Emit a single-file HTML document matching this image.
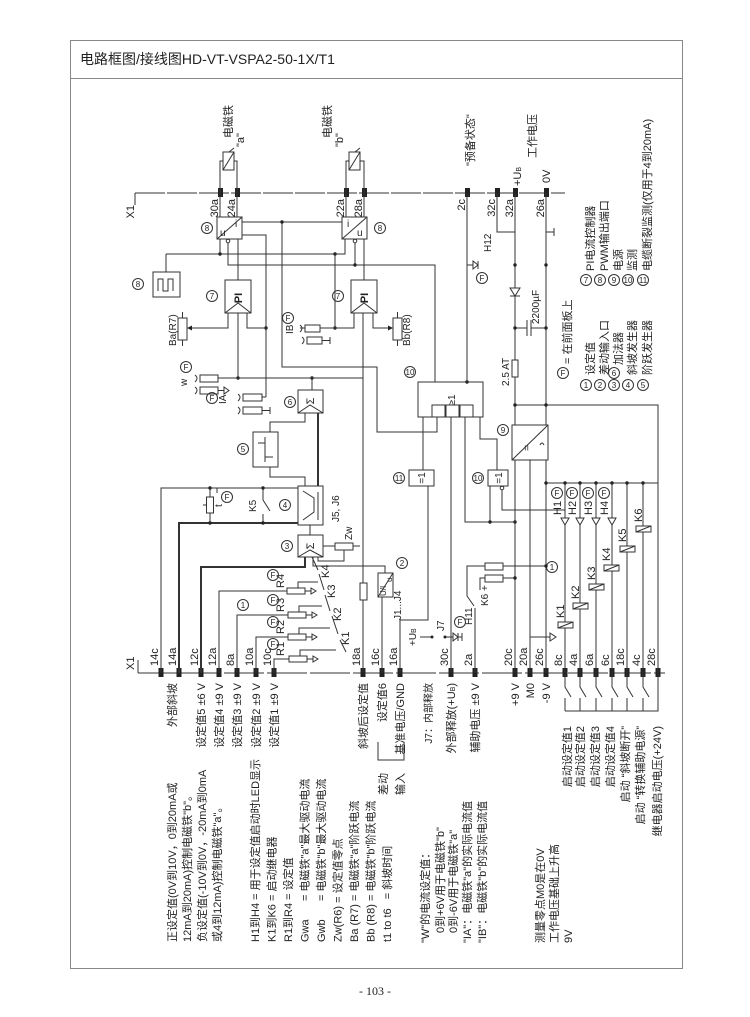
<!DOCTYPE html>
<html><head><meta charset="utf-8"><style>
html,body{margin:0;padding:0;background:#fff}
svg{display:block}
text{font-family:"Liberation Sans","Noto Sans CJK SC",sans-serif;font-size:11px;fill:#222}
.s{font-size:10px}
.c{font-size:8px}
.h{font-size:14px}
.p{font-family:"Liberation Serif",serif;font-size:12px}
.l{stroke:#333;stroke-width:1;fill:none}
.t{stroke:#333;stroke-width:2;fill:none}
.b{stroke:#333;stroke-width:1;fill:#fff}
.d{fill:#222}
</style></head><body>
<svg width="750" height="1017" viewBox="0 0 750 1017" xmlns="http://www.w3.org/2000/svg">
<rect x="70.5" y="40.5" width="612" height="928" fill="none" stroke="#888"/>
<line x1="70" y1="78.5" x2="682" y2="78.5" stroke="#888"/>
<text class="h" x="80" y="64">电路框图/接线图HD-VT-VSPA2-50-1X/T1</text>
<text class="p" x="375" y="995" text-anchor="middle">- 103 -</text>

<!-- terminal lines -->
<line class="l" x1="135" y1="193" x2="565" y2="193" stroke-dasharray="30,2"/>
<line class="l" x1="138" y1="673" x2="665" y2="673" stroke-dasharray="40,3"/>
<line class="l" x1="135" y1="193" x2="135" y2="205"/>
<line class="l" x1="138" y1="673" x2="138" y2="660"/>
<text transform="translate(134,205) rotate(-90)" text-anchor="end">X1</text>
<text transform="translate(134,670) rotate(-90)">X1</text>
<g class="d">
<rect x="218" y="188" width="5" height="9"/><rect x="235" y="188" width="5" height="9"/>
<rect x="344" y="188" width="5" height="9"/><rect x="362" y="188" width="5" height="9"/>
<rect x="465" y="188" width="5" height="9"/><rect x="495" y="188" width="5" height="9"/>
<rect x="513" y="188" width="5" height="9"/><rect x="544" y="188" width="5" height="9"/>
</g>
<g class="s">
<text transform="translate(218,199) rotate(-90)" text-anchor="end">30a</text>
<text transform="translate(235,199) rotate(-90)" text-anchor="end">24a</text>
<text transform="translate(344,199) rotate(-90)" text-anchor="end">22a</text>
<text transform="translate(362,199) rotate(-90)" text-anchor="end">28a</text>
<text transform="translate(465,199) rotate(-90)" text-anchor="end">2c</text>
<text transform="translate(495,199) rotate(-90)" text-anchor="end">32c</text>
<text transform="translate(513,199) rotate(-90)" text-anchor="end">32a</text>
<text transform="translate(544,199) rotate(-90)" text-anchor="end">26a</text>
</g>
<!-- bottom terminals -->
<g class="d">
<rect x="158.5" y="668" width="5" height="9"/><rect x="176.5" y="668" width="5" height="9"/>
<rect x="198.5" y="668" width="5" height="9"/><rect x="216.5" y="668" width="5" height="9"/>
<rect x="234.5" y="668" width="5" height="9"/><rect x="253.5" y="668" width="5" height="9"/>
<rect x="271.5" y="668" width="5" height="9"/><rect x="360.5" y="668" width="5" height="9"/>
<rect x="379.5" y="668" width="5" height="9"/><rect x="397.5" y="668" width="5" height="9"/>
<rect x="448.5" y="668" width="5" height="9"/><rect x="472.5" y="668" width="5" height="9"/>
<rect x="512.5" y="668" width="5" height="9"/><rect x="527.5" y="668" width="5" height="9"/>
<rect x="543.5" y="668" width="5" height="9"/><rect x="562.5" y="668" width="5" height="9"/>
<rect x="577.5" y="668" width="5" height="9"/><rect x="593.5" y="668" width="5" height="9"/>
<rect x="609.5" y="668" width="5" height="9"/><rect x="624.5" y="668" width="5" height="9"/>
<rect x="640.5" y="668" width="5" height="9"/><rect x="655.5" y="668" width="5" height="9"/>
</g>
<g class="s">
<text transform="translate(158,666) rotate(-90)">14c</text>
<text transform="translate(176,666) rotate(-90)">14a</text>
<text transform="translate(198,666) rotate(-90)">12c</text>
<text transform="translate(216,666) rotate(-90)">12a</text>
<text transform="translate(234,666) rotate(-90)">8a</text>
<text transform="translate(253,666) rotate(-90)">10a</text>
<text transform="translate(271,666) rotate(-90)">10c</text>
<text transform="translate(360,666) rotate(-90)">18a</text>
<text transform="translate(379,666) rotate(-90)">16c</text>
<text transform="translate(397,666) rotate(-90)">16a</text>
<text transform="translate(448,666) rotate(-90)">30c</text>
<text transform="translate(472,666) rotate(-90)">2a</text>
<text transform="translate(512,666) rotate(-90)">20c</text>
<text transform="translate(527,666) rotate(-90)">20a</text>
<text transform="translate(543,666) rotate(-90)">26c</text>
<text transform="translate(562,666) rotate(-90)">8c</text>
<text transform="translate(577,666) rotate(-90)">4a</text>
<text transform="translate(593,666) rotate(-90)">6a</text>
<text transform="translate(609,666) rotate(-90)">6c</text>
<text transform="translate(624,666) rotate(-90)">18c</text>
<text transform="translate(640,666) rotate(-90)">4c</text>
<text transform="translate(655,666) rotate(-90)">28c</text>
</g>

<!-- bottom labels -->
<text transform="translate(176,683) rotate(-90)" text-anchor="end">外部斜坡</text>
<text transform="translate(205,683) rotate(-90)" text-anchor="end">设定值5 ±6 V</text>
<text transform="translate(223,683) rotate(-90)" text-anchor="end">设定值4 ±9 V</text>
<text transform="translate(241,683) rotate(-90)" text-anchor="end">设定值3 ±9 V</text>
<text transform="translate(260,683) rotate(-90)" text-anchor="end">设定值2 ±9 V</text>
<text transform="translate(278,683) rotate(-90)" text-anchor="end">设定值1 ±9 V</text>
<text transform="translate(367,683) rotate(-90)" text-anchor="end">斜坡后设定值</text>
<text transform="translate(386,683) rotate(-90)" text-anchor="end">设定值6</text>
<text transform="translate(404,683) rotate(-90)" text-anchor="end">基准电压/GND</text>
<text transform="translate(432,683) rotate(-90)" text-anchor="end" class="s">J7：内部释放</text>
<text transform="translate(455,683) rotate(-90)" text-anchor="end">外部释放(+U<tspan font-size="7">B</tspan>)</text>
<text transform="translate(479,683) rotate(-90)" text-anchor="end">辅助电压 ±9 V</text>
<text transform="translate(519,683) rotate(-90)" text-anchor="end">+9 V</text>
<text transform="translate(534,683) rotate(-90)" text-anchor="end">M0</text>
<text transform="translate(550,683) rotate(-90)" text-anchor="end">-9 V</text>
<path class="l" d="M378,742 V760 H404 V742"/>
<text transform="translate(387,773) rotate(-90)" text-anchor="end">差动</text>
<text transform="translate(404,773) rotate(-90)" text-anchor="end">输入</text>

<!-- notes -->
<g>
<text transform="translate(176,942) rotate(-90)">正设定值(0V到10V，0到20mA或</text>
<text transform="translate(191,942) rotate(-90)">12mA到20mA)控制电磁铁"b"。</text>
<text transform="translate(206,942) rotate(-90)">负设定值(-10V到0V，-20mA到0mA</text>
<text transform="translate(221,942) rotate(-90)">或4到12mA)控制电磁铁"a"。</text>
<text transform="translate(259,942) rotate(-90)" xml:space="preserve">H1到H4 = 用于设定值启动时LED显示</text>
<text transform="translate(275.5,942) rotate(-90)" xml:space="preserve">K1到K6 = 启动继电器</text>
<text transform="translate(292,942) rotate(-90)" xml:space="preserve">R1到R4 = 设定值</text>
<text transform="translate(308.5,942) rotate(-90)" xml:space="preserve">Gwa      = 电磁铁"a"最大驱动电流</text>
<text transform="translate(325,942) rotate(-90)" xml:space="preserve">Gwb      = 电磁铁"b"最大驱动电流</text>
<text transform="translate(341.5,942) rotate(-90)" xml:space="preserve">Zw(R6) = 设定值零点</text>
<text transform="translate(358,942) rotate(-90)" xml:space="preserve">Ba (R7) = 电磁铁"a"阶跃电流</text>
<text transform="translate(374.5,942) rotate(-90)" xml:space="preserve">Bb (R8) = 电磁铁"b"阶跃电流</text>
<text transform="translate(391,942) rotate(-90)" xml:space="preserve">t1 to t6   = 斜坡时间</text>
<text transform="translate(429,943) rotate(-90)">"W"的电流设定值：</text>
<text transform="translate(444,933) rotate(-90)">0到+6V用于电磁铁"b"</text>
<text transform="translate(457,933) rotate(-90)">0到-6V用于电磁铁"a"</text>
<text transform="translate(471,943) rotate(-90)">"IA"：电磁铁"a"的实际电流值</text>
<text transform="translate(486,943) rotate(-90)">"IB"：电磁铁"b"的实际电流值</text>
<text transform="translate(544,943) rotate(-90)">测量零点M0是在0V</text>
<text transform="translate(558,943) rotate(-90)">工作电压基础上升高</text>
<text transform="translate(572,943) rotate(-90)">9V</text>
<text transform="translate(571,726) rotate(-90)" text-anchor="end">启动设定值1</text>
<text transform="translate(584,726) rotate(-90)" text-anchor="end">启动设定值2</text>
<text transform="translate(599,726) rotate(-90)" text-anchor="end">启动设定值3</text>
<text transform="translate(614,726) rotate(-90)" text-anchor="end">启动设定值4</text>
<text transform="translate(629,726) rotate(-90)" text-anchor="end">启动 “斜坡断开”</text>
<text transform="translate(644,726) rotate(-90)" text-anchor="end">启动 “转换辅助电源”</text>
<text transform="translate(661,726) rotate(-90)" text-anchor="end">继电器启动电压(+24V)</text>
</g>

<!-- bottom switches -->
<path class="l" d="M565,673 V687 L571,697 M565,698 V711 M580,673 V687 L586,697 M580,698 V711 M596,673 V687 L602,697 M596,698 V711 M612,673 V687 L618,697 M612,698 V711 M627,673 V687 L633,697 M627,698 V711 M643,673 V687 L649,697 M643,698 V711 M565,711 H658 V673"/>

<!-- legends -->
<g>
<circle class="l" cx="586" cy="280" r="5.5"/><text class="c" x="586" y="283" text-anchor="middle">7</text>
<text transform="translate(594,271) rotate(-90)">PI电流控制器</text>
<circle class="l" cx="600" cy="280" r="5.5"/><text class="c" x="600" y="283" text-anchor="middle">8</text>
<text transform="translate(608,271) rotate(-90)">PWM输出端口</text>
<circle class="l" cx="614" cy="280" r="5.5"/><text class="c" x="614" y="283" text-anchor="middle">9</text>
<text transform="translate(622,271) rotate(-90)">电源</text>
<circle class="l" cx="628" cy="280" r="5.5"/><text class="c" x="628" y="283" text-anchor="middle">10</text>
<text transform="translate(636,271) rotate(-90)">监测</text>
<circle class="l" cx="643" cy="280" r="5.5"/><text class="c" x="643" y="283" text-anchor="middle">11</text>
<text transform="translate(651,271) rotate(-90)">电缆断裂监测(仅用于4到20mA)</text>
<circle class="l" cx="586" cy="385" r="5.5"/><text class="c" x="586" y="388" text-anchor="middle">1</text>
<text transform="translate(594,375) rotate(-90)">设定值</text>
<circle class="l" cx="600" cy="385" r="5.5"/><text class="c" x="600" y="388" text-anchor="middle">2</text>
<text transform="translate(608,375) rotate(-90)">差动输入口</text>
<circle class="l" cx="614" cy="385" r="5.5"/><text class="c" x="614" y="388" text-anchor="middle">3</text>
<circle class="l" cx="614" cy="373" r="5.5"/><text class="c" x="614" y="376" text-anchor="middle">6</text>
<text transform="translate(622,365) rotate(-90)">加法器</text>
<circle class="l" cx="628" cy="385" r="5.5"/><text class="c" x="628" y="388" text-anchor="middle">4</text>
<text transform="translate(636,375) rotate(-90)"> 斜坡发生器</text>
<circle class="l" cx="643" cy="385" r="5.5"/><text class="c" x="643" y="388" text-anchor="middle">5</text>
<text transform="translate(651,375) rotate(-90)">阶跃发生器</text>
<circle class="l" cx="563" cy="373" r="5.5"/><text class="c" x="563" y="376" text-anchor="middle">F</text>
<text transform="translate(571,364) rotate(-90)">= 在前面板上</text>
</g>

<!-- top labels -->
<text transform="translate(232,138) rotate(-90)">电磁铁</text>
<text transform="translate(244,147) rotate(-90)">"a"</text>
<text transform="translate(331,138) rotate(-90)">电磁铁</text>
<text transform="translate(343,147) rotate(-90)">"b"</text>
<text transform="translate(474,166) rotate(-90)">"预备状态"</text>
<text transform="translate(536,158) rotate(-90)">工作电压</text>
<text transform="translate(521,186) rotate(-90)">+U<tspan font-size="7">B</tspan></text>
<text transform="translate(550,183) rotate(-90)">0V</text>

<!-- solenoids -->
<path class="l" d="M220,193 V161 H223 M237,193 V161 H234 M346,193 V161 H349 M364,193 V161 H360"/>
<rect class="b" x="223" y="152" width="11" height="18"/><path class="l" d="M223,170 L234,152 M229,152 L234,148"/>
<rect class="b" x="349" y="152" width="11" height="18"/><path class="l" d="M349,170 L360,152 M355,152 L360,148"/>

<!-- PWM blocks -->
<path class="l" d="M220,193 V217 M237,193 V217 M346,193 V217 M364,193 V217"/>
<rect class="b" x="217" y="217" width="25" height="22"/><path class="l" d="M217,239 L242,217"/>
<text x="220" y="236" class="s">u</text><text x="235" y="227" class="s">i</text>
<rect class="b" x="342" y="217" width="25" height="22"/><path class="l" d="M342,239 L367,217"/>
<text x="347" y="227" class="s">i</text><text x="357" y="236" class="s">u</text>
<circle class="l" cx="207" cy="228" r="5.5"/><text class="c" x="207" y="231" text-anchor="middle">8</text>
<circle class="l" cx="380" cy="228" r="5.5"/><text class="c" x="380" y="231" text-anchor="middle">8</text>
<path class="l" d="M242,222 H342 M282,222 V367 H377 V432 H437 V417 M242,235 H266 V397 M220,239 V254 M166,254 H345 V239 M166,254 V272 M228,241 V265 H435 V382 M355,241 V265 M238,239 V280 M364,239 V280"/>
<circle cx="228" cy="241" r="1.8" class="b"/><circle cx="355" cy="241" r="1.8" class="b"/>
<g class="d"><circle cx="282" cy="222" r="1.7"/><circle cx="220" cy="254" r="1.7"/><circle cx="355" cy="265" r="1.7"/><circle cx="266" cy="328" r="1.7"/><circle cx="335" cy="328" r="1.7"/><circle cx="238" cy="378" r="1.7"/><circle cx="312" cy="378" r="1.7"/><circle cx="335" cy="254" r="1.7"/></g>
<rect class="b" x="153" y="272" width="27" height="25"/><path class="l" d="M158,291 V279 H163 V291 H168 V279 H173 V291"/>
<circle class="l" cx="138" cy="284" r="5.5"/><text class="c" x="138" y="287" text-anchor="middle">8</text>

<!-- PI blocks -->
<rect class="b" x="225" y="280" width="26" height="33"/><path class="l" d="M225,313 L238,303 L251,313"/>
<text transform="translate(242,298) rotate(-90)" text-anchor="middle" font-weight="bold">PI</text>
<rect class="b" x="351" y="280" width="26" height="33"/><path class="l" d="M351,313 L364,303 L377,313"/>
<text transform="translate(368,298) rotate(-90)" text-anchor="middle" font-weight="bold">PI</text>
<circle class="l" cx="212" cy="296" r="5.5"/><text class="c" x="212" y="299" text-anchor="middle">7</text>
<circle class="l" cx="338" cy="296" r="5.5"/><text class="c" x="338" y="299" text-anchor="middle">7</text>
<path class="l" d="M228,313 V328 H190 M238,313 V378 M247,313 V328 H266 M354,313 V328 H320 M335,328 V254 M373,313 V328 H390 M363,313 V673"/>
<path class="d" d="M187,328 L192,325.5 V330.5Z M393,328 L388,325.5 V330.5Z"/>
<rect class="b" x="178" y="318" width="9" height="22"/><path class="l" d="M182.5,312 V318 M182.5,340 V346"/>
<text transform="translate(176,346) rotate(-90)" class="s">Ba(R7)</text>
<rect class="b" x="393" y="318" width="9" height="22"/><path class="l" d="M397.5,312 V318 M397.5,340 V346"/>
<text transform="translate(410,346) rotate(-90)" class="s">Bb(R8)</text>
<rect class="b" x="305" y="325" width="15" height="7"/><path class="l" d="M300,325 q4,3 0,7 M305,328 H300"/>
<rect class="b" x="307" y="337" width="15" height="7"/><path class="l" d="M302,337 q4,3 0,7 M322,340.5 H330 M330,337 V344"/>
<text transform="translate(293,334) rotate(-90)" class="s">IB</text>
<circle class="l" cx="288" cy="318" r="5.5"/><text class="c" x="288" y="321" text-anchor="middle">F</text>

<!-- W, IA inputs -->
<path class="l" d="M218,378 H363 M312,378 V390"/>
<rect class="b" x="200" y="375" width="18" height="7"/><path class="l" d="M195,375 q4,3 0,7"/>
<rect class="b" x="200" y="387" width="18" height="7"/><path class="l" d="M195,387 q4,3 0,7 M218,390.5 H224"/><path class="b" d="M224,387 L229,390.5 L224,394Z"/>
<text transform="translate(187,386) rotate(-90)" class="s">w</text>
<circle class="l" cx="186" cy="367" r="5.5"/><text class="c" x="186" y="370" text-anchor="middle">F</text>
<rect class="b" x="243" y="394" width="19" height="7"/><path class="l" d="M238,394 q4,3 0,7 M262,397 H266"/>
<rect class="b" x="243" y="407" width="19" height="7"/><path class="l" d="M238,407 q4,3 0,7 M262,410.5 H270 M270,407 V414"/>
<circle class="l" cx="212" cy="398" r="5.5"/><text class="c" x="212" y="401" text-anchor="middle">F</text>
<text transform="translate(226,404) rotate(-90)" class="s">IA</text>

<!-- 6 sigma -->
<rect class="b" x="298" y="390" width="25" height="23"/><path class="l" d="M298,413 L310,405 L323,413"/>
<text transform="translate(314,401) rotate(-90)" text-anchor="middle">Σ</text>
<circle class="l" cx="290" cy="402" r="5.5"/><text class="c" x="290" y="405" text-anchor="middle">6</text>
<!-- 5 step -->
<rect class="b" x="253" y="432" width="25" height="35"/><path class="l" d="M258,443 H265 V457 H273 M265,437 V462"/>
<circle class="l" cx="243" cy="449" r="5.5"/><text class="c" x="243" y="452" text-anchor="middle">5</text>
<path class="l" d="M270,432 V422 H305 V413 M270,467 V477 H305 V486"/>
<path class="t" d="M318,413 V486"/>
<!-- 4 ramp -->
<rect class="b" x="298" y="486" width="25" height="39"/><path class="l" d="M303,520 L314,512 V498 L303,491 M318,520 V492"/>
<circle class="l" cx="285" cy="505" r="5.5"/><text class="c" x="285" y="508" text-anchor="middle">4</text>
<text transform="translate(339,522) rotate(-90)" class="s">J5, J6</text>
<path class="l" d="M161,673 V488 H298 M210,488 V497 M210,513 V523 M217,488 V493 M203,505 H207 M263,488 V500 L270,511 M263,514 V523"/>
<path class="t" d="M179,673 V523 H298"/>
<rect class="b" x="206.5" y="497" width="7" height="16"/>
<circle class="l" cx="227" cy="497" r="5.5"/><text class="c" x="227" y="500" text-anchor="middle">F</text>
<text transform="translate(222,507) rotate(-90)" class="s">t</text>
<text transform="translate(256,512) rotate(-90)" class="s">K5</text>
<g class="d"><circle cx="210" cy="488" r="1.7"/><circle cx="210" cy="523" r="1.7"/><circle cx="263" cy="488" r="1.7"/><circle cx="263" cy="523" r="1.7"/></g>
<path class="l" d="M310,525 V535"/>
<!-- 3 sigma -->
<rect class="b" x="298" y="535" width="25" height="22"/><path class="l" d="M298,557 L310,550 L323,557"/>
<text transform="translate(314,546) rotate(-90)" text-anchor="middle">Σ</text>
<circle class="l" cx="287" cy="546" r="5.5"/><text class="c" x="287" y="549" text-anchor="middle">3</text>
<path class="l" d="M323,546 H335 M353,546 H360 M344,550 V561 H318 V557"/>
<rect class="b" x="335" y="543" width="18" height="7"/>
<text transform="translate(352,540) rotate(-90)" class="s">Zw</text>
<path class="t" d="M201,673 V567 H305 V557"/>
<path class="l" d="M313,557 V566 H385 V573"/>
<!-- 2 U/I -->
<rect class="b" x="378" y="573" width="15" height="24"/><path class="l" d="M378,597 L393,573"/>
<text transform="translate(386,596) rotate(-90)" class="c">U/I</text><text transform="translate(392,582) rotate(-90)" class="c">u</text>
<circle class="l" cx="402" cy="563" r="5.5"/><text class="c" x="402" y="566" text-anchor="middle">2</text>
<text transform="translate(401,620) rotate(-90)" class="s">J1...J4</text>
<path class="l" d="M382,673 V597 M400,673 V620 H428 V486"/>
<rect class="b" x="360" y="583" width="7" height="17"/>
<!-- setpoint resistors -->
<path class="l" d="M219,673 V591 H287 M237,673 V615 H288 M256,673 V637 H288 M274,673 V659 H289"/>
<rect class="b" x="287" y="588" width="18" height="6"/><rect class="b" x="288" y="612" width="18" height="6"/>
<rect class="b" x="288" y="634" width="18" height="6"/><rect class="b" x="289" y="656" width="18" height="6"/>
<path class="l" d="M305,591 H311 M306,615 H312 M306,637 H312 M307,659 H313 M298,588 V582 H318 M299,612 V606 H322 M299,634 V628 H330 M300,656 V650 H336"/>
<path class="b" d="M311,588 L316,591 L311,594Z M312,612 L317,615 L312,618Z M312,634 L317,637 L312,640Z M313,656 L318,659 L313,662Z"/>
<path class="l" d="M312,557 L318,570 M319,574 L324,590 M325,595 L330,611 M332,616 L338,634 M340,640 L346,652"/>
<g class="s">
<text transform="translate(284,588) rotate(-90)">R4</text><text transform="translate(284,612) rotate(-90)">R3</text>
<text transform="translate(284,634) rotate(-90)">R2</text><text transform="translate(284,656) rotate(-90)">R1</text>
<text transform="translate(329,578) rotate(-90)">K4</text><text transform="translate(335,598) rotate(-90)">K3</text>
<text transform="translate(341,621) rotate(-90)">K2</text><text transform="translate(349,645) rotate(-90)">K1</text>
</g>
<circle class="l" cx="273" cy="575" r="5.5"/><text class="c" x="273" y="578" text-anchor="middle">F</text>
<circle class="l" cx="273" cy="600" r="5.5"/><text class="c" x="273" y="603" text-anchor="middle">F</text>
<circle class="l" cx="273" cy="622" r="5.5"/><text class="c" x="273" y="625" text-anchor="middle">F</text>
<circle class="l" cx="273" cy="644" r="5.5"/><text class="c" x="273" y="647" text-anchor="middle">F</text>
<circle class="l" cx="243" cy="605" r="5.5"/><text class="c" x="243" y="608" text-anchor="middle">1</text>

<!-- 11 and 10 logic -->
<rect class="b" x="409" y="470" width="25" height="16"/><text transform="translate(425,478) rotate(-90)" text-anchor="middle" class="s">=1</text>
<circle class="l" cx="399" cy="478" r="5.5"/><text class="c" x="399" y="481" text-anchor="middle">11</text>
<rect class="b" x="418" y="382" width="65" height="35"/>
<text transform="translate(455,400) rotate(-90)" text-anchor="middle" class="s">≥1</text>
<rect class="b" x="432" y="405" width="13" height="12"/><rect class="b" x="446" y="405" width="13" height="12"/><rect class="b" x="460" y="405" width="13" height="12"/>
<circle class="l" cx="410" cy="372" r="5.5"/><text class="c" x="410" y="375" text-anchor="middle">10</text>
<path class="l" d="M423,417 V470 M451,673 V417 M465,417 V522 H515 M480,417 V439 H497 V470 M490,486 V522 M502,490 V510 H565"/>
<circle cx="502" cy="488" r="1.8" class="b"/>
<rect class="b" x="488" y="470" width="20" height="16"/><text transform="translate(502,478) rotate(-90)" text-anchor="middle" class="s">=1</text>
<circle class="l" cx="478" cy="478" r="5.5"/><text class="c" x="478" y="481" text-anchor="middle">10</text>
<g class="d"><circle cx="467" cy="382" r="1.7"/><circle cx="490" cy="522" r="1.7"/><circle cx="515" cy="522" r="1.7"/></g>

<!-- power -->
<path class="l" d="M467,193 V382 M497,193 V232 H515 M515,193 V673 M546,193 V673 M546,232 H554 M554,228 V236 M515,328 H527 M531,328 H546 M515,405 H658 V673 M530,460 V673 M530,637 H550"/>
<path class="l" d="M527,320 V336 M531,320 V336"/>
<path class="b" d="M550,633 L556,637 L550,641Z"/>
<path class="b" d="M510,288 L520,288 L515,296Z"/><path class="l" d="M510,296 H520"/>
<rect class="b" x="512" y="360" width="6" height="17"/>
<g class="d"><circle cx="515" cy="265" r="1.7"/><circle cx="546" cy="265" r="1.7"/><circle cx="515" cy="328" r="1.7"/><circle cx="546" cy="328" r="1.7"/><circle cx="515" cy="405" r="1.7"/><circle cx="546" cy="405" r="1.7"/></g>
<text transform="translate(539,324) rotate(-90)" class="s">2200µF</text>
<text transform="translate(509,386) rotate(-90)" class="s">2.5 AT</text>
<path class="l" d="M467,265 H473 M478,261 V269"/><path class="b" d="M473,261 L473,269 L478,265Z"/>
<text transform="translate(491,252) rotate(-90)" class="s">H12</text>
<circle class="l" cx="482" cy="278" r="5.5"/><text class="c" x="482" y="281" text-anchor="middle">F</text>
<!-- 9 -->
<rect class="b" x="512" y="425" width="36" height="35"/><path class="l" d="M512,460 L548,425 M540,445 q2,-4 4,0"/>
<text transform="translate(530,448) rotate(-90)" text-anchor="middle" class="s">=</text>
<circle class="l" cx="503" cy="430" r="5.5"/><text class="c" x="503" y="433" text-anchor="middle">9</text>

<!-- relays & LEDs -->
<path class="l" d="M546,483 H658 M565,483 V673 M580,483 V673 M596,483 V673 M612,483 V673 M627,483 V673 M643,483 V673"/>
<g class="d"><circle cx="565" cy="483" r="1.7"/><circle cx="580" cy="483" r="1.7"/><circle cx="596" cy="483" r="1.7"/><circle cx="612" cy="483" r="1.7"/><circle cx="627" cy="483" r="1.7"/><circle cx="643" cy="483" r="1.7"/><circle cx="546" cy="483" r="1.7"/></g>
<path class="b" d="M561,518 H569 L565,525Z M576,518 H584 L580,525Z M592,518 H600 L596,525Z M608,518 H616 L612,525Z"/>
<g class="s">
<text transform="translate(561,515) rotate(-90)">H1</text><text transform="translate(576,515) rotate(-90)">H2</text>
<text transform="translate(592,515) rotate(-90)">H3</text><text transform="translate(608,515) rotate(-90)">H4</text>
</g>
<circle class="l" cx="557" cy="493" r="5.5"/><text class="c" x="557" y="496" text-anchor="middle">F</text>
<circle class="l" cx="572" cy="493" r="5.5"/><text class="c" x="572" y="496" text-anchor="middle">F</text>
<circle class="l" cx="588" cy="493" r="5.5"/><text class="c" x="588" y="496" text-anchor="middle">F</text>
<circle class="l" cx="604" cy="493" r="5.5"/><text class="c" x="604" y="496" text-anchor="middle">F</text>
<g>
<rect class="b" x="558" y="622" width="15" height="6"/><path class="l" d="M558,628 L573,622"/>
<rect class="b" x="573" y="603" width="15" height="6"/><path class="l" d="M573,609 L588,603"/>
<rect class="b" x="589" y="584" width="15" height="6"/><path class="l" d="M589,590 L604,584"/>
<rect class="b" x="604" y="565" width="15" height="6"/><path class="l" d="M604,571 L619,565"/>
<rect class="b" x="620" y="546" width="15" height="6"/><path class="l" d="M620,552 L635,546"/>
<rect class="b" x="636" y="526" width="15" height="6"/><path class="l" d="M636,532 L651,526"/>
</g>
<g class="s">
<text transform="translate(564,618) rotate(-90)">K1</text><text transform="translate(579,599) rotate(-90)">K2</text>
<text transform="translate(595,580) rotate(-90)">K3</text><text transform="translate(610,561) rotate(-90)">K4</text>
<text transform="translate(626,542) rotate(-90)">K5</text><text transform="translate(642,522) rotate(-90)">K6</text>
</g>
<circle class="l" cx="552" cy="567" r="5.5"/><text class="c" x="552" y="570" text-anchor="middle">1</text>

<!-- H11 / K6 / J7 -->
<rect class="b" x="485" y="563" width="18" height="7"/><rect class="b" x="485" y="575" width="18" height="7"/>
<path class="l" d="M503,566 H546 M485,566 H467 V596 L474,606 M475,673 V608 M503,578 H515 M485,578 H480 V590"/>
<g class="d"><circle cx="546" cy="566" r="1.7"/><circle cx="515" cy="578" r="1.7"/></g>
<text transform="translate(488,606) rotate(-90)" class="s">K6 +</text>
<text transform="translate(472,625) rotate(-90)" class="s">H11</text>
<circle class="l" cx="460" cy="622" r="5.5"/><text class="c" x="460" y="625" text-anchor="middle">F</text>
<text transform="translate(416,646) rotate(-90)" class="s">+U<tspan font-size="7">B</tspan></text>
<text transform="translate(444,631) rotate(-90)" class="s">J7</text>
<path class="l" d="M420,637 H432 M445,637 H453 M458,633 V641"/><circle cx="432" cy="637" r="1.5" class="d"/><circle cx="445" cy="637" r="1.5" class="d"/>
<path class="b" d="M453,633 L453,641 L458,637Z"/>
<path class="l" d="M458,637 H462 M462,633 V641"/>
</svg>
</body></html>
